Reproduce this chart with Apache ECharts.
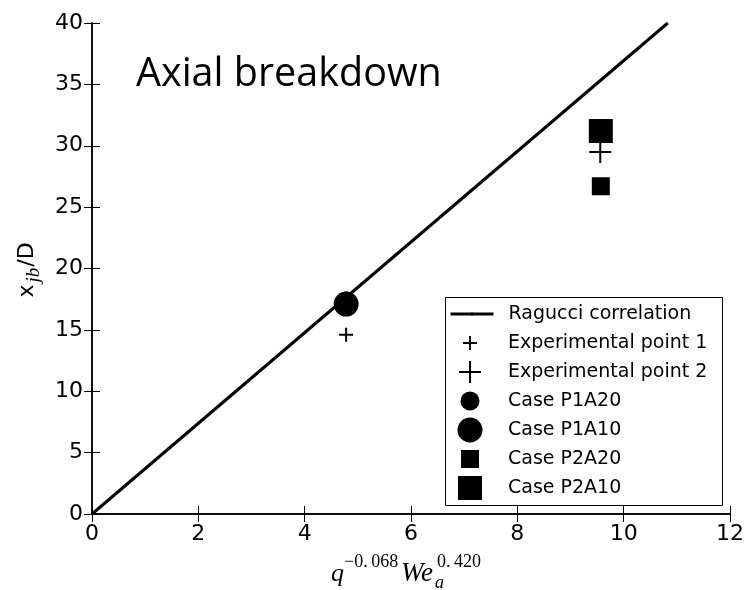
<!DOCTYPE html>
<html><head><meta charset="utf-8">
<script src="https://cdn.jsdelivr.net/npm/echarts@6/dist/echarts.min.js"></script>
<style>html,body{margin:0;padding:0;background:#fff}#c{width:748px;height:590px}</style>
</head><body><div id="c"></div><script>
// ---- data ----
const xTicks = [0, 2, 4, 6, 8, 10, 12];
const yTicks = [0, 5, 10, 15, 20, 25, 30, 35, 40];
const corrX = [0, 10.83];
const corrY = [0, 40];
const exp1X = [4.78], exp1Y = [14.6];
const exp2X = [9.56], exp2Y = [29.5];
const p1a20X = [4.78], p1a20Y = [17.35];
const p1a10X = [4.78], p1a10Y = [17.1];
const p2a20X = [9.57], p2a20Y = [26.7];
const p2a10X = [9.57], p2a10Y = [31.2];
const seriesNames = ['Ragucci correlation', 'Experimental point 1', 'Experimental point 2',
  'Case P1A20', 'Case P1A10', 'Case P2A20', 'Case P2A10'];
const titleText = 'Axial breakdown';

// ---- styling ----
const plusS = 'path://M6,0H8V6H14V8H8V14H6V8H0V6H6Z';
const plusL = 'path://M10,0H12V10H22V12H12V22H10V12H0V10H10Z';
const sq = 'path://M0,0H10V10H0Z';
const symbols = [null, plusS, plusL, 'circle', 'circle', sq, sq];
const sizes = [null, 14, 22, 19, 25, 18, 24];

const zip = (xs, ys) => xs.map((x, i) => [x, ys[i]]);
const dataSets = [zip(corrX, corrY), zip(exp1X, exp1Y), zip(exp2X, exp2Y), zip(p1a20X, p1a20Y),
  zip(p1a10X, p1a10Y), zip(p2a20X, p2a20Y), zip(p2a10X, p2a10Y)];

const series = dataSets.map((d, i) => i === 0 ? {
  name: seriesNames[0], type: 'line', data: d, symbol: 'none', showSymbol: false,
  lineStyle: { color: '#000', width: 3 }, itemStyle: { color: '#000' }, animation: false, z: 2
} : {
  name: seriesNames[i], type: 'scatter', data: d, symbol: symbols[i], symbolSize: sizes[i],
  itemStyle: { color: '#000', opacity: 1 }, animation: false, z: 3
});

const legends = seriesNames.map((n, i) => {
  const c = 314 + 29 * i;
  const base = {
    data: [n], orient: 'vertical', padding: 0, top: c - 13,
    textStyle: { fontFamily: 'DejaVu Sans', fontSize: 19, color: '#000', lineHeight: 26 },
    symbolKeepAspect: true, selectedMode: false
  };
  if (i === 0) {
    return Object.assign(base, { left: 449, itemWidth: 43, itemHeight: 4,
      lineStyle: { width: 3, color: '#000' },
      textStyle: Object.assign({}, base.textStyle, { padding: [0, 0, 0, 10] }) });
  }
  return Object.assign(base, { left: 470 - sizes[i] / 2, itemWidth: 66, itemHeight: sizes[i] });
});

const axisCommon = {
  type: 'value', axisLine: { show: true, lineStyle: { color: '#000', width: 1.5 } },
  axisTick: { show: true, inside: true, length: 8, lineStyle: { color: '#000', width: 1 } },
  splitLine: { show: false }
};
const lbl = { color: '#000', fontFamily: 'DejaVu Sans', fontSize: 22 };
const va = { textVerticalAlign: 'middle', verticalAlign: 'middle', fill: '#000' };

const option = {
  backgroundColor: '#fff',
  animation: false,
  title: { text: titleText, left: 131, top: 50,
    textStyle: { fontFamily: 'Open Sans', fontSize: 39.5, fontWeight: 'normal', color: '#000' } },
  grid: { left: 92, right: 18, top: 23, bottom: 76, containLabel: false },
  xAxis: [
    Object.assign({}, axisCommon, { position: 'bottom', min: xTicks[0], max: xTicks[xTicks.length - 1], interval: 2,
      axisLabel: Object.assign({ margin: 9 }, lbl) }),
    Object.assign({}, axisCommon, { position: 'top', min: xTicks[0], max: xTicks[xTicks.length - 1], interval: 2,
      axisLabel: { show: false } })
  ],
  yAxis: [
    Object.assign({}, axisCommon, { position: 'left', min: yTicks[0], max: yTicks[yTicks.length - 1], interval: 5,
      axisLabel: Object.assign({ margin: 9 }, lbl) }),
    Object.assign({}, axisCommon, { position: 'right', min: yTicks[0], max: yTicks[yTicks.length - 1], interval: 5,
      axisLabel: { show: false } })
  ],
  legend: legends,
  series: series,
  graphic: [
    { type: 'rect', left: 443, top: 295, shape: { width: 277, height: 208 },
      style: { fill: null, stroke: '#000', lineWidth: 1 }, z: 10, silent: true },
    // y axis name
    { type: 'text', x: 27, y: 270, rotation: Math.PI / 2,
      style: { text: '{n|x}{s|jb}{n|/D}', textAlign: 'center', align: 'center', textVerticalAlign: 'middle', verticalAlign: 'middle',
        rich: {
          n: { fontFamily: 'DejaVu Sans', fontSize: 22, lineHeight: 32, fill: '#000', color: '#000' },
          s: { fontFamily: 'Liberation Serif', fontStyle: 'italic', fontSize: 19, lineHeight: 19, verticalAlign: 'bottom', padding: [0, 1, 0, 2], fill: '#000', color: '#000' }
        } } },
    // x axis name pieces
    { type: 'text', x: 331, y: 574, style: Object.assign({ text: 'q', font: 'italic 26px "Liberation Serif"' }, va) },
    { type: 'text', x: 344, y: 562, style: Object.assign({ text: '\u22120.\u2009068', font: '18px "Liberation Serif"' }, va) },
    { type: 'text', x: 401, y: 574, style: Object.assign({ text: 'We', font: 'italic 27px "Liberation Serif"' }, va) },
    { type: 'text', x: 435, y: 583, style: Object.assign({ text: 'a', font: 'italic 18px "Liberation Serif"' }, va) },
    { type: 'text', x: 437, y: 562, style: Object.assign({ text: '0.\u2009420', font: '18px "Liberation Serif"' }, va) }
  ]
};
const chart = echarts.init(document.getElementById('c'), null, { renderer: 'canvas' });
chart.setOption(option);
</script></body></html>
